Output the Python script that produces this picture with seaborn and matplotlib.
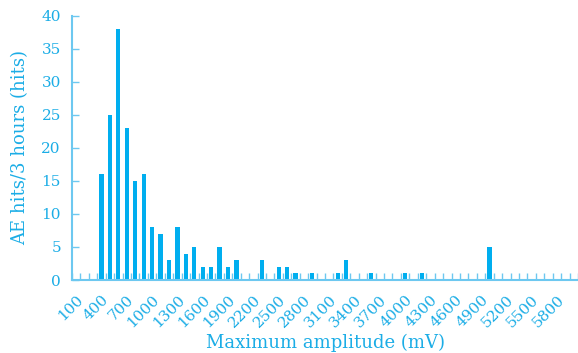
import matplotlib
matplotlib.use("Agg")
import matplotlib.pyplot as plt
import seaborn as sns
import pandas as pd
import numpy as np

amplitude = [100, 200, 300, 400, 500, 600, 700, 800, 900, 1000,
             1100, 1200, 1300, 1400, 1500, 1600, 1700, 1800, 1900, 2000,
             2100, 2200, 2300, 2400, 2500, 2600, 2700, 2800, 2900, 3000,
             3100, 3200, 3300, 3400, 3500, 3600, 3700, 3800, 3900, 4000,
             4100, 4200, 4300, 4400, 4500, 4600, 4700, 4800, 4900, 5000,
             5100, 5200, 5300, 5400, 5500, 5600, 5700, 5800, 5900, 6000]
hits = [0, 0, 0, 16, 25, 38, 23, 15, 16, 8,
        7, 3, 8, 4, 5, 2, 2, 5, 2, 3,
        0, 0, 3, 0, 2, 2, 1, 0, 1, 0,
        0, 1, 3, 0, 0, 1, 0, 0, 0, 1,
        0, 1, 0, 0, 0, 0, 0, 0, 0, 5,
        0, 0, 0, 0, 0, 0, 0, 0, 0, 0]
tick_labels = ["100", "400", "700", "1000", "1300", "1600", "1900", "2200", "2500", "2800",
               "3100", "3400", "3700", "4000", "4300", "4600", "4900", "5200", "5500", "5800"]

BAR = "#00AEEF"
AXC = "#6DC8F0"
TXT = "#1BADE6"

sns.set_style("white")
plt.rcParams['font.family'] = ['DejaVu Serif']

df = pd.DataFrame({"amp": [str(a) for a in amplitude], "hits": hits})

fig = plt.figure(figsize=(5.78, 3.53), dpi=100)
ax = fig.add_axes([72/578, 1-280/353, 1-72/578, (280-15.7)/353])
sns.barplot(data=df, x="amp", y="hits", order=df["amp"], color=BAR,
            width=0.5, saturation=1, linewidth=0, ax=ax)

ax.set_xlim(-0.5, len(amplitude) - 0.5)
ax.set_ylim(0, 40)
ax.set_yticks(range(0, 41, 5))

pos = [amplitude.index(int(t)) for t in tick_labels]
ax.set_xticks(pos)
ax.set_xticklabels(tick_labels, rotation=45, ha="right", rotation_mode="anchor",
                   fontsize=11, color=TXT)
ax.set_xticks(np.arange(-0.5, len(amplitude), 1), minor=True)
ax.tick_params(axis="x", which="major", bottom=True, length=0, pad=9)
ax.tick_params(axis="x", which="minor", bottom=True, direction="in", length=5,
               width=1, color=AXC)
ax.tick_params(axis="y", direction="in", length=5, width=1, color=AXC, labelcolor=TXT,
               labelsize=11, pad=8, left=True)

for s in ["top", "right"]:
    ax.spines[s].set_visible(False)
for s in ["left", "bottom"]:
    ax.spines[s].set_color(AXC)
    ax.spines[s].set_linewidth(1.5)

ax.set_xlabel("Maximum amplitude (mV)", fontsize=13, color=TXT, labelpad=3)
ax.set_ylabel("AE hits/3 hours (hits)", fontsize=13, color=TXT, labelpad=9)

fig.savefig("out.png", dpi=100)
